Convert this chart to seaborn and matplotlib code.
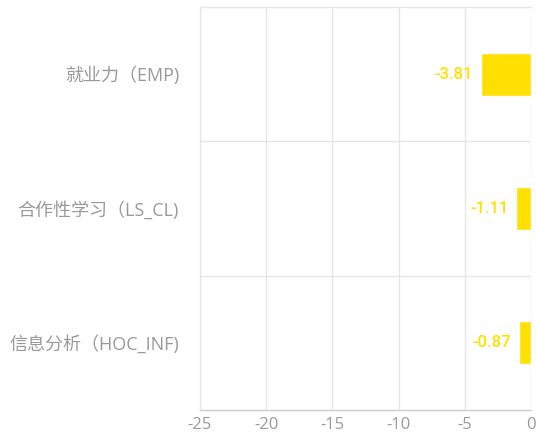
import matplotlib
matplotlib.use("Agg")
import matplotlib.pyplot as plt
import seaborn as sns
import pandas as pd
from matplotlib.ticker import FixedLocator

categories = ["就业力（EMP)", "合作性学习（LS_CL)", "信息分析（HOC_INF)"]
values = [-3.81, -1.11, -0.87]
xticks = [-25, -20, -15, -10, -5, 0]

df = pd.DataFrame({"cat": categories, "val": values})

sns.set_theme(style="white")
plt.rcParams["font.family"] = ["Open Sans", "Noto Sans CJK SC", "DejaVu Sans"]

fig = plt.figure(figsize=(5.36, 4.4), dpi=100)
ax = fig.add_axes([200 / 536, 30 / 440, 331 / 536, 403 / 440])

sns.barplot(data=df, x="val", y="cat", orient="h", color="#FFE000",
            saturation=1, width=0.32, ax=ax)

ax.set_xlim(-25, 0)
ax.set_ylim(2.5, -0.5)
ax.set_xticks(xticks)
ax.set_xticklabels([str(t) for t in xticks])
ax.yaxis.set_minor_locator(FixedLocator([0.5, 1.5]))
ax.grid(axis="x", color="#e6e6e6", linewidth=1)
ax.grid(axis="y", which="minor", color="#e6e6e6", linewidth=1)
ax.set_axisbelow(True)
ax.set_xlabel("")
ax.set_ylabel("")

for s in ["top", "left"]:
    ax.spines[s].set_color("#e6e6e6")
    ax.spines[s].set_linewidth(1)
ax.spines["right"].set_visible(False)
ax.spines["bottom"].set_color("#cccccc")
ax.spines["bottom"].set_linewidth(1)

ax.tick_params(axis="x", colors="#999999", labelsize=12, length=0, pad=5)
ax.tick_params(axis="y", colors="#999999", labelsize=13, length=0, pad=15)
ax.tick_params(axis="y", which="minor", length=0)

for i, v in enumerate(values):
    ax.text(v - 0.6, i, f"{v:.2f}", color="#FFE000", fontsize=12,
            fontweight="medium", ha="right", va="center",
            family=["Roboto", "DejaVu Sans"])

fig.savefig("out.png", dpi=100)
